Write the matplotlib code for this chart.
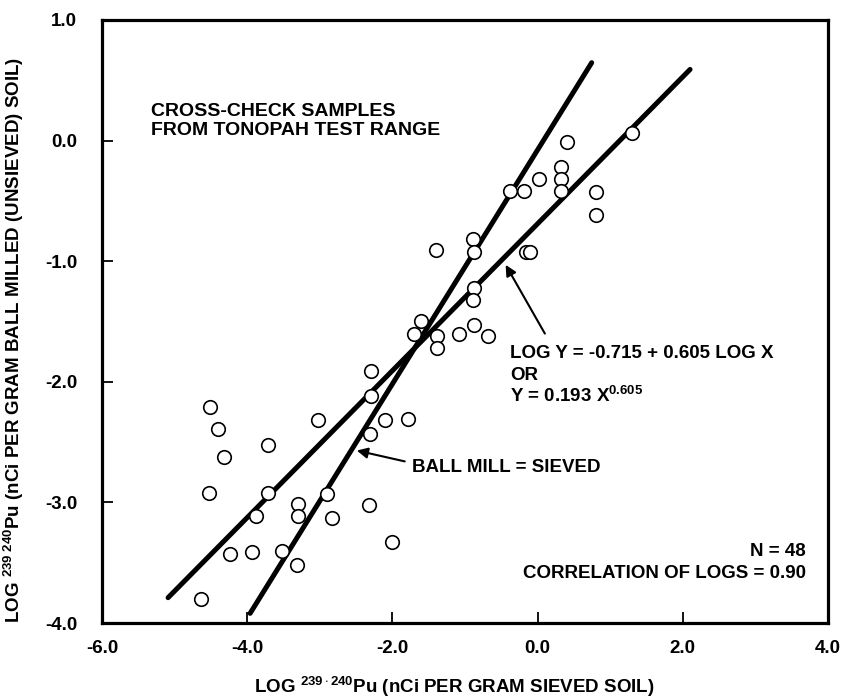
import numpy as np
import matplotlib
matplotlib.use("Agg")
import matplotlib.pyplot as plt

plt.rcParams['font.family'] = ['Liberation Sans', 'DejaVu Sans']
plt.rcParams['font.weight'] = 'bold'
plt.rcParams['mathtext.fontset'] = 'custom'
plt.rcParams['mathtext.rm'] = 'Liberation Sans:bold'
plt.rcParams['mathtext.it'] = 'Liberation Sans:bold'
plt.rcParams['mathtext.bf'] = 'Liberation Sans:bold'
plt.rcParams['mathtext.default'] = 'rm'

# log Pu-239,240 in sieved soil (x) vs ball milled soil (y)
x_sieved = [1.30, 0.41, 0.32, 0.32, 0.32, 0.02, -0.19, -0.38, 0.81, 0.81,
            -0.89, -0.88, -1.40, -0.16, -0.10, -0.88, -0.89, -0.88, -0.69, -1.08,
            -1.60, -1.70, -1.38, -1.39, -2.30, -2.30, -4.51, -4.40, -4.32, -3.71,
            -3.02, -2.10, -1.78, -2.31, -4.52, -3.72, -2.90, -3.30, -3.30, -3.88,
            -2.83, -2.32, -4.24, -3.93, -3.52, -3.32, -2.01, -4.64]
y_milled = [0.06, -0.01, -0.22, -0.32, -0.42, -0.32, -0.42, -0.42, -0.43, -0.62,
            -0.82, -0.92, -0.91, -0.92, -0.92, -1.22, -1.32, -1.53, -1.62, -1.60,
            -1.50, -1.60, -1.62, -1.72, -1.91, -2.12, -2.21, -2.39, -2.62, -2.52,
            -2.32, -2.32, -2.31, -2.43, -2.92, -2.92, -2.93, -3.01, -3.11, -3.11,
            -3.13, -3.02, -3.43, -3.41, -3.40, -3.52, -3.33, -3.80]

# drawn lines (end points)
fit_x = [-5.09, 2.10]
fit_y = [-3.79, 0.59]
equal_x = [-3.96, 0.745]
equal_y = [-3.92, 0.646]

x_ticks = [-6, -4, -2, 0, 2, 4]
x_ticklabels = ['-6.0', '-4.0', '-2.0', '0.0', '2.0', '4.0']
y_ticks = [-4, -3, -2, -1, 0, 1]
y_ticklabels = ['-4.0', '-3.0', '-2.0', '-1.0', '0.0', '1.0']

fig = plt.figure(figsize=(8.49, 7.0), dpi=100)
ax = fig.add_axes([102/849, 77/700, 726/849, 603/700])

ax.plot(fit_x, fit_y, color='black', lw=3.6, solid_capstyle='round', zorder=2)
ax.plot(equal_x, equal_y, color='black', lw=3.6, solid_capstyle='round', zorder=2)
ax.scatter(x_sieved, y_milled, s=95, facecolor='white', edgecolor='black',
           linewidths=1.2, zorder=3)

ax.set_xlim(-6, 4)
ax.set_ylim(-4, 1)
ax.set_xticks(x_ticks)
ax.set_xticklabels(x_ticklabels)
ax.set_yticks(y_ticks)
ax.set_yticklabels(y_ticklabels)
ax.tick_params(direction='in', length=8, width=1.3, labelsize=13.5)
ax.tick_params(axis='x', pad=12)
ax.tick_params(axis='y', pad=18)
for s in ax.spines.values():
    s.set_linewidth(2.3)

ax.set_xlabel(r'LOG $^{239\cdot240}$Pu (nCi PER GRAM SIEVED SOIL)',
              fontsize=13.5, fontweight='bold')
ax.xaxis.set_label_coords(0.486, -0.086)
ax.set_ylabel(r'LOG $^{239\ 240}$Pu (nCi PER GRAM BALL MILLED (UNSIEVED) SOIL)',
              fontsize=13.5, fontweight='bold')
ax.yaxis.set_label_coords(-0.104, 0.469)

ax.text(-5.32, 0.31, 'CROSS-CHECK SAMPLES\nFROM TONOPAH TEST RANGE',
        fontsize=14, fontweight='bold', va='top', ha='left', linespacing=1.1)

ax.text(-0.38, -1.80, 'LOG Y = -0.715 + 0.605 LOG X', fontsize=13.5,
        fontweight='bold', va='baseline')
ax.text(-0.38, -1.985, 'OR', fontsize=13.5, fontweight='bold', va='baseline')
ax.text(-0.38, -2.17, r'Y = 0.193 X$^{0.605}$', fontsize=13.5,
        fontweight='bold', va='baseline')
ax.annotate('', xy=(-0.44, -1.03), xytext=(0.10, -1.60),
            arrowprops=dict(arrowstyle='-|>', lw=1.5, color='black',
                            mutation_scale=16, shrinkA=0, shrinkB=0))

ax.text(-1.73, -2.745, 'BALL MILL = SIEVED', fontsize=13.5,
        fontweight='bold', va='baseline')
ax.annotate('', xy=(-2.49, -2.57), xytext=(-1.83, -2.66),
            arrowprops=dict(arrowstyle='-|>', lw=1.5, color='black',
                            mutation_scale=16, shrinkA=0, shrinkB=0))

ax.text(3.70, -3.445, 'N = 48', fontsize=13.5, fontweight='bold',
        ha='right', va='baseline')
ax.text(3.70, -3.63, 'CORRELATION OF LOGS = 0.90', fontsize=13.5,
        fontweight='bold', ha='right', va='baseline')

fig.savefig('out.png', dpi=100)
